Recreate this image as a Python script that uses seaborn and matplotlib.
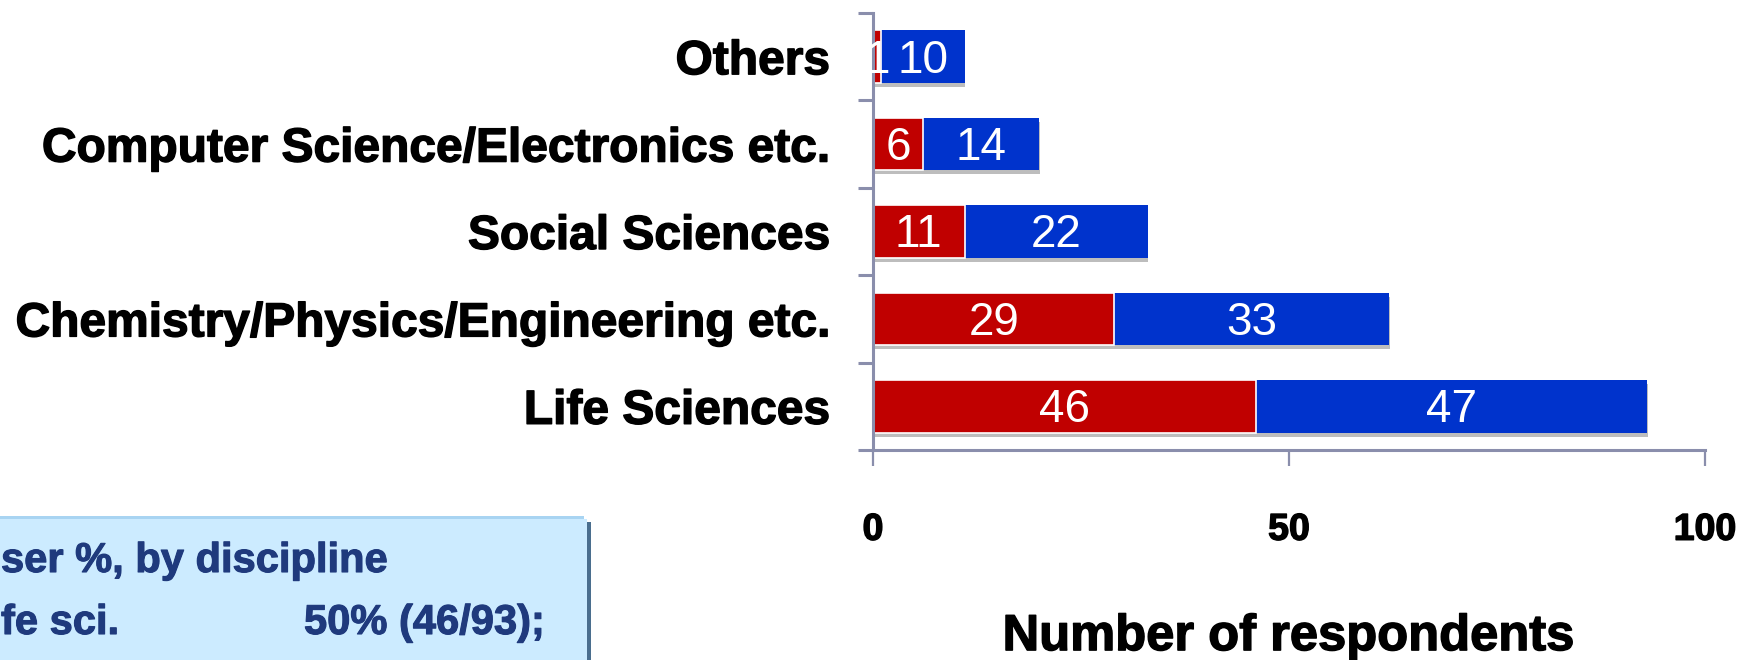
import matplotlib
matplotlib.use("Agg")
import matplotlib.pyplot as plt
import matplotlib.patheffects as pe
from matplotlib.patches import Rectangle
from matplotlib.ticker import FixedLocator
import seaborn as sns
import pandas as pd

# Respondents per discipline, split into two groups
categories = ["Others", "Computer Science/Electronics etc.", "Social Sciences",
              "Chemistry/Physics/Engineering etc.", "Life Sciences"]
group_a = [1, 6, 11, 29, 46]    # red segment
group_b = [10, 14, 22, 33, 47]  # blue segment
x_ticks = [0, 50, 100]
x_label = "Number of respondents"
box_title = "ser %, by discipline"
box_row_label = "fe sci."
box_row_value = "50% (46/93);"

RED = "#C00000"
BLUE = "#0033CC"
SPINE = "#8A8EAC"
NAVY = "#1F3A7D"

sns.set_style("white")
plt.rcParams["font.family"] = ["Liberation Sans", "DejaVu Sans"]

heavy_black = [pe.withStroke(linewidth=1.0, foreground="black")]
heavy_navy = [pe.withStroke(linewidth=0.8, foreground=NAVY)]

df = pd.DataFrame({"category": categories, "a": group_a, "b": group_b})
df["total"] = df["a"] + df["b"]

W, H = 1753, 660
fig = plt.figure(figsize=(W / 100, H / 100), dpi=100)
ax = fig.add_axes([873 / W, 1 - 450 / H, 832 / W, 437 / H])

# Stacked bars: full totals in blue underneath, first group in red on top
sns.barplot(data=df, x="total", y="category", orient="h", color=BLUE,
            saturation=1, width=0.6, ax=ax, linewidth=0)
for p in ax.patches:
    p.set_path_effects([pe.SimplePatchShadow(offset=(0.6, -3), shadow_rgbFace="#BDBDBD", alpha=1.0),
                        pe.Normal()])
sns.barplot(data=df, x="a", y="category", orient="h", color=RED,
            saturation=1, width=0.6, ax=ax, edgecolor="white", linewidth=1.2)

# Value labels centred on each segment
label_shift = 0.045
for i, (a, b) in enumerate(zip(group_a, group_b)):
    ax.text(a / 2, i + label_shift, str(a), ha="center", va="center",
            color="white", fontsize=33)
    ax.text(a + b / 2, i + label_shift, str(b), ha="center", va="center",
            color="white", fontsize=33)

ax.set_xlim(0, 100)
ax.set_ylim(len(categories) - 0.5, -0.5)

# Axes styling
for side in ("top", "right"):
    ax.spines[side].set_visible(False)
for side in ("left", "bottom"):
    ax.spines[side].set_color(SPINE)
    ax.spines[side].set_linewidth(2.2)

ax.set_xticks(x_ticks)
ax.set_xticklabels([str(t) for t in x_ticks], fontsize=27, fontweight="bold",
                   path_effects=heavy_black)
ax.tick_params(axis="x", bottom=True, direction="out", length=11.5, width=1.6,
               color=SPINE, labelcolor="black", pad=33)

ax.set_yticks(range(len(categories)))
ax.set_yticklabels(categories, fontsize=34.5, fontweight="bold", path_effects=heavy_black)
ax.tick_params(axis="y", which="major", left=False, length=0, pad=31, labelcolor="black")
ax.yaxis.set_minor_locator(FixedLocator([i - 0.5 for i in range(len(categories) + 1)]))
ax.tick_params(axis="y", which="minor", left=True, direction="out", length=11, width=2.2,
               color=SPINE)

ax.set_ylabel("")
ax.set_xlabel(x_label, fontsize=36.5, fontweight="bold", color="black",
              path_effects=heavy_black)
ax.xaxis.set_label_coords(0.5, -0.371)

# Summary box in the lower left
box_top = 1 - 519 / H
fig.patches.append(Rectangle((-0.01, -0.05), 587 / W + 0.01, box_top + 0.05,
                             transform=fig.transFigure, facecolor="#CCEBFF",
                             edgecolor="none", zorder=0))
fig.patches.append(Rectangle((-0.01, box_top), 584 / W + 0.01, 3 / H,
                             transform=fig.transFigure, facecolor="#A8D4F2",
                             edgecolor="none", zorder=0))
fig.patches.append(Rectangle((587 / W, -0.05), 4 / W, 1 - 522 / H + 0.05,
                             transform=fig.transFigure, facecolor="#4A6E8E",
                             edgecolor="none", zorder=0))
fig.text(1 / W, 1 - 572 / H, box_title, fontsize=30, fontweight="bold", color=NAVY,
         ha="left", va="baseline", path_effects=heavy_navy)
fig.text(1 / W, 1 - 634 / H, box_row_label, fontsize=30, fontweight="bold", color=NAVY,
         ha="left", va="baseline", path_effects=heavy_navy)
fig.text(304 / W, 1 - 634 / H, box_row_value, fontsize=30, fontweight="bold", color=NAVY,
         ha="left", va="baseline", path_effects=heavy_navy)

fig.savefig("out.png", dpi=100)
